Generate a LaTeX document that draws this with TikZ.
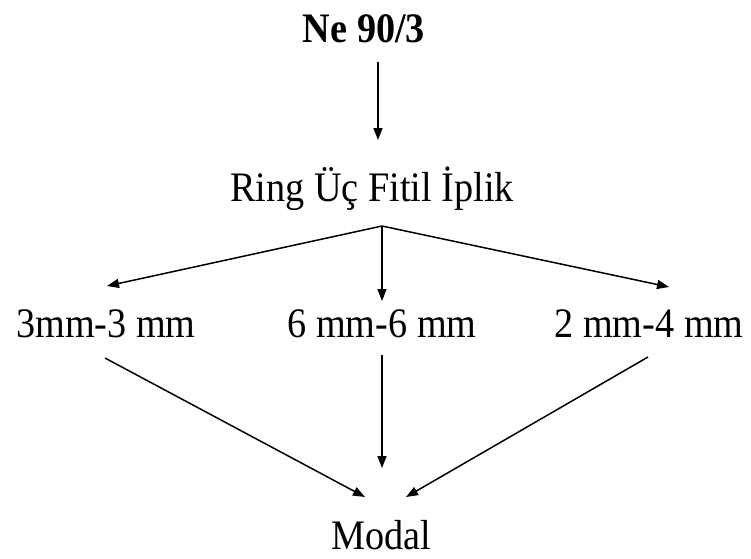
\documentclass[tikz,border=0pt]{standalone}
\usepackage{fontspec}
\setmainfont{Liberation Serif}[FakeStretch=0.91]
\usetikzlibrary{arrows.meta}
\tikzset{
  lbl/.style={inner sep=0pt, anchor=base, font=\fontsize{42}{48}\selectfont},
  conn/.style={line width=1.5pt, -{Triangle[length=12pt,width=9pt]}},
}
\begin{document}
\begin{tikzpicture}[x=1pt,y=1pt]
\useasboundingbox (0,0) rectangle (751,-558);
\node[lbl, font=\fontsize{42}{48}\selectfont\bfseries] (ne) at (364,-42) {Ne 90/3};
\node[lbl] (ring) at (372,-201) {Ring Üç Fitil İplik};
\node[lbl] (a) at (106,-337) {3mm-3 mm};
\node[lbl] (b) at (382,-337) {6 mm-6 mm};
\node[lbl] (c) at (649,-337) {2 mm-4 mm};
\node[lbl] (modal) at (381,-549) {Modal};
% connector end points
\coordinate (neout) at (378,-62);
\coordinate (ringin) at (378,-140);
\coordinate (ringout) at (382,-226);
\coordinate (ain) at (107,-286);
\coordinate (bin) at (382,-301);
\coordinate (cin) at (669,-287);
\coordinate (aout) at (105,-358);
\coordinate (bout) at (382,-355);
\coordinate (cout) at (648,-357);
\coordinate (modalinA) at (365,-497);
\coordinate (modalinB) at (382,-468);
\coordinate (modalinC) at (406,-497);
\draw[conn] (neout) -- (ringin);
\draw[conn] (ringout) -- (ain);
\draw[conn] (ringout) -- (bin);
\draw[conn] (ringout) -- (cin);
\draw[conn] (aout) -- (modalinA);
\draw[conn] (bout) -- (modalinB);
\draw[conn] (cout) -- (modalinC);
\end{tikzpicture}
\end{document}
